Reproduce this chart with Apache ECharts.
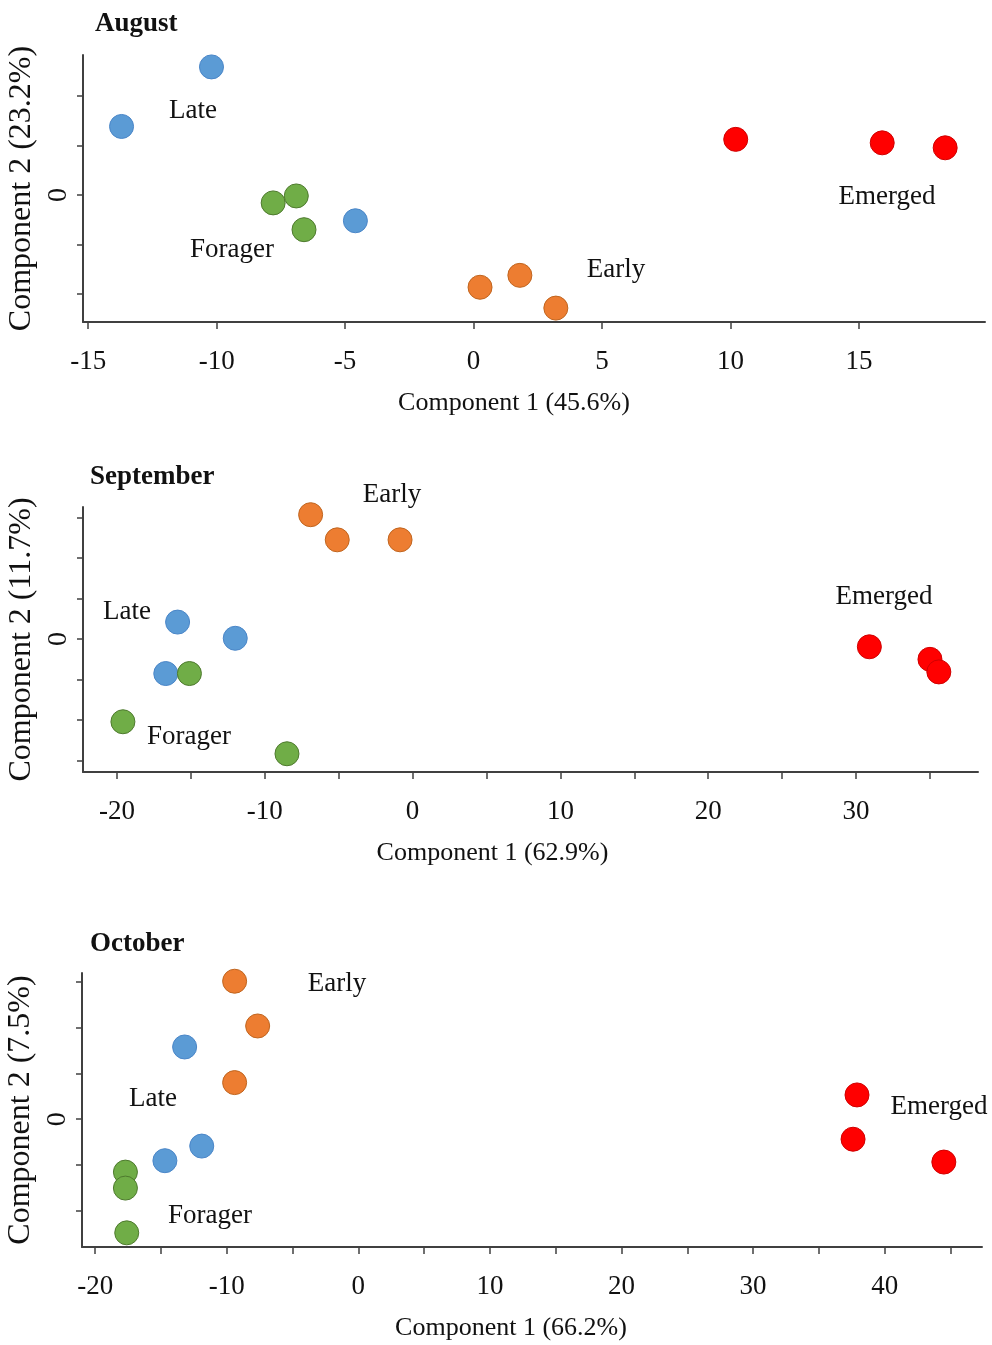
<!DOCTYPE html>
<html>
<head>
<meta charset="utf-8">
<script src="https://cdn.jsdelivr.net/npm/echarts@6/dist/echarts.min.js"></script>
<style>html,body{margin:0;padding:0;background:#fff}#c{width:992px;height:1345px}</style>
</head>
<body>
<div id="c"></div>
<script>
// ---- data (Component 1, Component 2) ----
const panelNames = ['August', 'September', 'October'];
const xTitles = ['Component 1 (45.6%)', 'Component 1 (62.9%)', 'Component 1 (66.2%)'];
const yTitles = ['Component 2 (23.2%)', 'Component 2 (11.7%)', 'Component 2 (7.5%)'];
const groupNames = ['Late', 'Forager', 'Early', 'Emerged'];

const augLate = [[-10.2, 12.9], [-13.7, 6.9], [-4.6, -2.6]];
const augForager = [[-7.8, -0.8], [-6.9, -0.1], [-6.6, -3.5]];
const augEarly = [[0.25, -9.3], [1.8, -8.1], [3.2, -11.4]];
const augEmerged = [[10.2, 5.6], [15.9, 5.25], [18.35, 4.75]];

const sepLate = [[-15.9, 2.1], [-12.0, 0.1], [-16.7, -4.25]];
const sepForager = [[-15.1, -4.25], [-19.6, -10.2], [-8.5, -14.15]];
const sepEarly = [[-6.9, 15.35], [-5.1, 12.25], [-0.85, 12.25]];
const sepEmerged = [[30.9, -0.95], [35.0, -2.5], [35.6, -4.05]];

const octLate = [[-13.2, 7.9], [-11.9, -2.95], [-14.7, -4.55]];
const octForager = [[-17.7, -5.8], [-17.7, -7.55], [-17.6, -12.45]];
const octEarly = [[-9.4, 15.1], [-7.65, 10.2], [-9.4, 4.0]];
const octEmerged = [[37.9, 2.65], [37.6, -2.2], [44.5, -4.7]];

// tick values
const augXTickLabels = [-15, -10, -5, 0, 5, 10, 15];
const augXTicks = [-15, -10, -5, 0, 5, 10, 15];
const sepXTickLabels = [-20, -10, 0, 10, 20, 30];
const sepXTicks = [-20, -15, -10, -5, 0, 5, 10, 15, 20, 25, 30, 35];
const octXTickLabels = [-20, -10, 0, 10, 20, 30, 40];
const octXTicks = [-20, -15, -10, -5, 0, 5, 10, 15, 20, 25, 30, 35, 40, 45];
const augYTicks = [-10, -5, 0, 5, 10];
const sepYTicks = [-15, -10, -5, 0, 5, 10, 15];
const octYTicks = [-10, -5, 0, 5, 10, 15];
const yTickLabels = [0];

const panelData = [
  [augLate, augForager, augEarly, augEmerged],
  [sepLate, sepForager, sepEarly, sepEmerged],
  [octLate, octForager, octEarly, octEmerged]
];

// ---- styling / layout ----
const FONT = "'Liberation Serif','Times New Roman',serif";
const fills = ['#5B9BD5', '#70AD47', '#ED7D31', '#FF0000'];
const borders = ['#4A86C8', '#4E7A2E', '#C0651F', '#D00000'];
const axisColor = '#404040';

const grids = [
  {left: 83, top: 55, width: 902, height: 267},
  {left: 83, top: 507, width: 895, height: 265},
  {left: 82, top: 973, width: 900, height: 274}
].map(g => Object.assign(g, {containLabel: false, outerBoundsMode: 'none'}));
const xRanges = [[-15.2, 19.9], [-22.3, 38.25], [-21, 47.4]];
const yRanges = [[-12.8, 14.1], [-16.4, 16.3], [-14.0, 16.0]];
const xTickSets = [augXTicks, sepXTicks, octXTicks];
const xLabelSets = [augXTickLabels, sepXTickLabels, octXTickLabels];
const yTickSets = [augYTicks, sepYTicks, octYTicks];
const xNamePad = [[0, 40, 0, 0], [0, 76, 0, 0], [0, 42, 0, 0]];

const xAxis = grids.map((g, i) => ({
  type: 'value', gridIndex: i, min: xRanges[i][0], max: xRanges[i][1],
  name: xTitles[i], nameLocation: 'middle', nameGap: 68,
  nameTextStyle: {fontFamily: FONT, fontSize: 26, color: '#111', padding: xNamePad[i]},
  axisLine: {show: true, onZero: false, lineStyle: {color: axisColor, width: 2}},
  axisTick: {show: true, length: 7, customValues: xTickSets[i], lineStyle: {color: axisColor, width: 1.5}},
  axisLabel: {customValues: xLabelSets[i], fontFamily: FONT, fontSize: 27, color: '#111', margin: 26,
    showMinLabel: true, showMaxLabel: true},
  splitLine: {show: false}
}));

const yAxis = grids.map((g, i) => ({
  type: 'value', gridIndex: i, min: yRanges[i][0], max: yRanges[i][1],
  name: yTitles[i], nameLocation: 'middle', nameGap: 34, nameRotate: 90,
  nameTextStyle: {fontFamily: FONT, fontSize: 32, color: '#111'},
  axisLine: {show: true, onZero: false, lineStyle: {color: axisColor, width: 2}},
  axisTick: {show: true, length: 6, customValues: yTickSets[i], lineStyle: {color: axisColor, width: 1.5}},
  axisLabel: {customValues: yTickLabels, rotate: 90, fontFamily: FONT, fontSize: 28, color: '#111', margin: 10},
  splitLine: {show: false}
}));

const series = [];
panelData.forEach((groups, p) => {
  groups.forEach((pts, g) => {
    series.push({
      type: 'scatter', name: panelNames[p] + ' ' + groupNames[g],
      xAxisIndex: p, yAxisIndex: p, data: pts, symbolSize: 24,
      itemStyle: {color: fills[g], borderColor: borders[g], borderWidth: 1, opacity: 1},
      emphasis: {disabled: true}
    });
  });
});

const notes = [
  ['Late', 193, 111], ['Forager', 232, 250], ['Early', 616, 270], ['Emerged', 887, 197],
  ['Early', 392, 495], ['Late', 127, 612], ['Forager', 189, 737], ['Emerged', 884, 597],
  ['Early', 337, 984], ['Late', 153, 1099], ['Forager', 210, 1216], ['Emerged', 939, 1107]
];
const graphic = notes.map(n => ({
  type: 'text', x: n[1], y: n[2],
  style: {text: n[0], fontFamily: FONT, fontSize: 27, fill: '#111', align: 'center', verticalAlign: 'middle'}
}));

const titles = [
  {text: panelNames[0], left: 95, top: 11},
  {text: panelNames[1], left: 90, top: 464},
  {text: panelNames[2], left: 90, top: 931}
].map(t => Object.assign(t, {textStyle: {fontFamily: FONT, fontSize: 27, fontWeight: 'bold', color: '#111'}, padding: 0}));

const chart = echarts.init(document.getElementById('c'), null, {renderer: 'canvas'});
chart.setOption({
  backgroundColor: '#fff',
  animation: false,
  title: titles,
  grid: grids,
  xAxis: xAxis,
  yAxis: yAxis,
  series: series,
  graphic: graphic
});
</script>
</body>
</html>
